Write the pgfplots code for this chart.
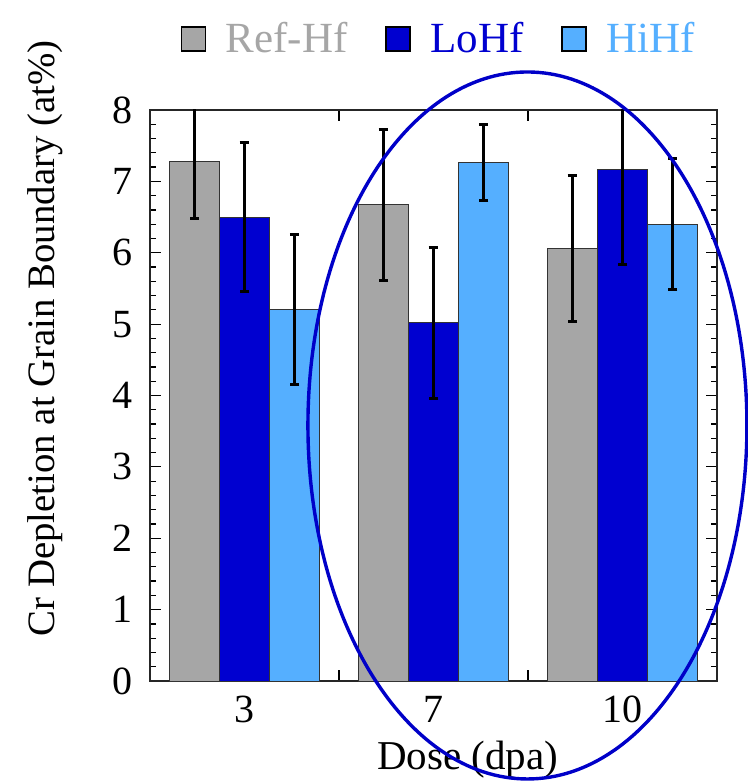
\documentclass[border=0pt]{standalone}
\usepackage{fontspec}
\setmainfont{Liberation Serif}
\usepackage{pgfplots}
\pgfplotsset{compat=1.18}
\definecolor{refc}{RGB}{166,166,166}
\definecolor{loc}{RGB}{0,0,208}
\definecolor{hic}{RGB}{85,175,255}
\definecolor{ellc}{RGB}{0,0,200}
\begin{document}
\begin{tikzpicture}
\begin{axis}[
  scale only axis, width=283.5pt, height=285.5pt,
  xmin=-0.5, xmax=2.5, ymin=0, ymax=8,
  ybar=0pt, bar width=0.265,
  /pgf/number format/assume math mode=true,
  ytick={0,1,...,8}, minor y tick num=4,
  xtick={0.5,1.5}, xticklabels={{},{}},
  extra x ticks={0,1,2}, extra x tick labels={3,7,10},
  extra x tick style={major tick length=0pt, xticklabel style={yshift=-4pt}},
  tick align=inside, major tick length=5.5pt, minor tick length=3pt,
  tick style={black, line width=0.6pt},
  axis line style={black!85, line width=0.7pt},
  ticklabel style={font=\fontsize{20}{24}\selectfont},
  yticklabel style={xshift=-5pt},
  ylabel={Cr Depletion at Grain Boundary (at\%)},
  ylabel style={font=\fontsize{19.4}{22}\selectfont, at={(axis description cs:-0.185,0.6)}, anchor=center},
  xlabel={Dose (dpa)},
  xlabel style={font=\fontsize{20.5}{24}\selectfont, at={(axis description cs:0.56,-0.138)}, anchor=center},
  legend columns=3,
  legend style={at={(axis description cs:0.511,1)}, anchor=center, yshift=35.5pt, draw=none, fill=none,
    font=\fontsize{21.5}{24}\selectfont,
    /tikz/every even column/.append style={column sep=17pt}},
  legend image code/.code={\draw[#1,draw=black,line width=0.8pt] (0pt,-6pt) rectangle (12pt,6pt); \path[draw=none,fill=none] (0pt,0pt) -- (20pt,0pt);},
  error bars/y dir=both, error bars/y explicit,
  error bars/error bar style={black, line width=1.5pt},
  error bars/error mark options={black, rotate=90, mark size=2.4pt, line width=1.5pt},
]
\addplot[fill=refc, draw=black!80, line width=0.5pt] coordinates {(0,7.28) +- (0,0.80) (1,6.67) +- (0,1.06) (2,6.06) +- (0,1.02)};
\addlegendentry{\textcolor{refc}{Ref-Hf}}
\addplot[fill=loc, draw=black!80, line width=0.5pt] coordinates {(0,6.50) +- (0,1.04) (1,5.02) +- (0,1.06) (2,7.17) +- (0,1.34)};
\addlegendentry{\textcolor{loc}{LoHf}}
\addplot[fill=hic, draw=black!80, line width=0.5pt] coordinates {(0,5.20) +- (0,1.05) (1,7.26) +- (0,0.53) (2,6.40) +- (0,0.92)};
\addlegendentry{\textcolor{hic}{HiHf}}
\coordinate (ec) at (axis cs:1.497,3.58);
\end{axis}
\begin{axis}[
  at={(0,0)}, anchor=south west,
  scale only axis, width=283.5pt, height=285.5pt,
  xmin=-0.5, xmax=2.5, ymin=0, ymax=8,
  hide y axis,
  axis line style={draw=none},
  xtick=\empty, minor xtick={-0.4,-0.3,...,2.45},
  tick align=outside, minor tick length=3pt,
  tick style={black, line width=0.6pt},
]
\addplot[draw=none] coordinates {(0,0)};
\end{axis}
\draw[ellc, line width=1.7pt] (ec) ellipse [x radius=109.75pt, y radius=176.75pt];
\pgfresetboundingbox
\path[use as bounding box] (-75pt,-50.5pt) rectangle (299pt,340.5pt);
\end{tikzpicture}
\end{document}
